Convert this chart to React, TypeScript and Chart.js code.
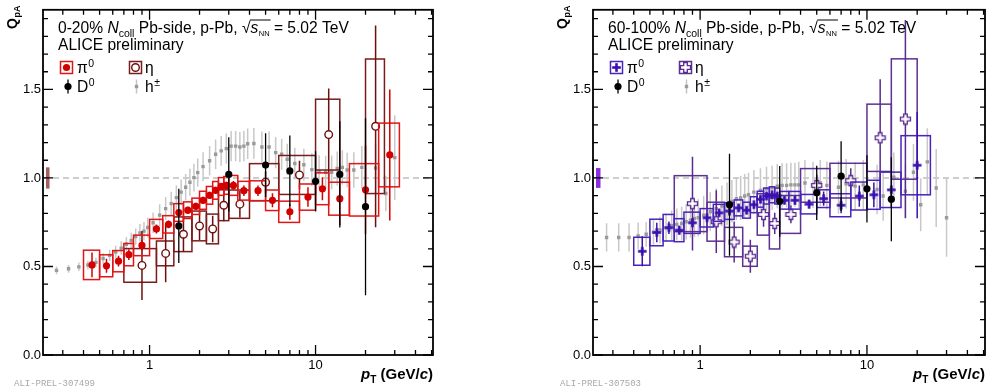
import React, { useEffect, useRef } from "react";
import { Chart, registerables } from "chart.js";

Chart.register(...registerables);

const FONT = '"Liberation Sans", Arial, Helvetica, sans-serif';

// ---- axes ----
const X_MIN = 0.228;
const X_MAX = 51;
const Y_MIN = 0;
const Y_MAX = 1.95;
const X_TICKS = [1, 10];
const X_MINOR = [0.3, 0.4, 0.5, 0.6, 0.7, 0.8, 0.9, 2, 3, 4, 5, 6, 7, 8, 9, 20, 30, 40, 50];
const Y_TICKS = [0, 0.5, 1.0, 1.5];
const Y_MINOR = [0.1, 0.2, 0.3, 0.4, 0.6, 0.7, 0.8, 0.9, 1.1, 1.2, 1.3, 1.4, 1.6, 1.7, 1.8, 1.9];
const REF_LINE = 1.0;

// ---- LEFT panel (0-20%) ----
const L_H_PT = [0.275, 0.325, 0.375, 0.425, 0.475, 0.525, 0.575, 0.625, 0.675, 0.725, 0.775, 0.825, 0.875, 0.925, 0.975, 1.05, 1.15, 1.25, 1.35, 1.45, 1.55, 1.65, 1.75, 1.85, 1.95, 2.1, 2.3, 2.5, 2.7, 2.9, 3.1, 3.3, 3.5, 3.7, 3.9, 4.25, 4.75, 5.25, 5.75, 6.25, 6.75, 7.5, 8.5, 9.5, 10.5, 11.5, 12.5, 13.5, 14.5, 15.5, 17, 19, 23, 26.5, 30];
const L_H_Q = [0.478, 0.487, 0.498, 0.508, 0.523, 0.545, 0.563, 0.582, 0.604, 0.626, 0.647, 0.669, 0.69, 0.7, 0.72, 0.747, 0.79, 0.827, 0.855, 0.889, 0.92, 0.948, 0.976, 1.002, 1.03, 1.064, 1.097, 1.134, 1.153, 1.166, 1.18, 1.18, 1.175, 1.18, 1.193, 1.195, 1.175, 1.175, 1.143, 1.134, 1.106, 1.082, 1.075, 1.047, 1.036, 1.032, 1.032, 1.054, 1.06, 1.045, 1.045, 1.06, 1.056, 0.912, 1.115];
const L_H_ERR = [0.022, 0.022, 0.024, 0.025, 0.027, 0.03, 0.032, 0.035, 0.038, 0.04, 0.043, 0.046, 0.05, 0.052, 0.055, 0.058, 0.062, 0.065, 0.067, 0.07, 0.072, 0.074, 0.076, 0.078, 0.08, 0.082, 0.083, 0.084, 0.084, 0.085, 0.085, 0.085, 0.085, 0.085, 0.086, 0.087, 0.087, 0.088, 0.088, 0.088, 0.088, 0.089, 0.09, 0.092, 0.093, 0.094, 0.095, 0.096, 0.097, 0.098, 0.1, 0.12, 0.14, 0.1, 0.24];

const L_PI0_PT = [0.45, 0.55, 0.65, 0.75, 0.9, 1.1, 1.3, 1.5, 1.7, 1.9, 2.1, 2.3, 2.5, 2.7, 2.9, 3.2, 3.7, 4.5, 5.5, 7, 9, 11, 14, 20, 28];
const L_PI0_Q = [0.509, 0.504, 0.53, 0.567, 0.619, 0.712, 0.738, 0.805, 0.818, 0.84, 0.874, 0.902, 0.93, 0.952, 0.958, 0.958, 0.928, 0.928, 0.874, 0.809, 0.892, 0.939, 0.883, 0.933, 1.13];
const L_PI0_STAT = [0.07, 0.04, 0.03, 0.03, 0.03, 0.025, 0.022, 0.02, 0.02, 0.02, 0.02, 0.02, 0.02, 0.02, 0.02, 0.025, 0.03, 0.03, 0.04, 0.045, 0.055, 0.065, 0.15, 0.25, 0.37];
const L_PI0_SYS = [0.083, 0.062, 0.06, 0.063, 0.058, 0.054, 0.049, 0.05, 0.047, 0.046, 0.051, 0.05, 0.05, 0.05, 0.05, 0.056, 0.053, 0.056, 0.058, 0.06, 0.074, 0.09, 0.093, 0.148, 0.18];
const L_PI0_LO = [0.4, 0.5, 0.6, 0.7, 0.8, 1.0, 1.2, 1.4, 1.6, 1.8, 2.0, 2.2, 2.4, 2.6, 2.8, 3.0, 3.4, 4.0, 5.0, 6.0, 8.0, 10, 12, 16, 24];
const L_PI0_HI = [0.5, 0.6, 0.7, 0.8, 1.0, 1.2, 1.4, 1.6, 1.8, 2.0, 2.2, 2.4, 2.6, 2.8, 3.0, 3.4, 4.0, 5.0, 6.0, 8.0, 10, 12, 16, 24, 32];

const L_ETA_PT = [0.9, 1.25, 1.6, 2.0, 2.4, 2.8, 3.5, 5.0, 8.0, 12.0, 23.0];
const L_ETA_Q = [0.506, 0.574, 0.682, 0.729, 0.712, 0.846, 0.852, 0.976, 1.017, 1.245, 1.292];
const L_ETA_STAT = [0.195, 0.163, 0.1, 0.08, 0.075, 0.09, 0.075, 0.06, 0.08, 0.26, 0.57];
const L_ETA_SYS = [0.095, 0.07, 0.098, 0.084, 0.084, 0.087, 0.08, 0.105, 0.11, 0.2, 0.38];
const L_ETA_LO = [0.7, 1.1, 1.4, 1.8, 2.2, 2.6, 3.0, 4.0, 6.0, 10, 20];
const L_ETA_HI = [1.1, 1.4, 1.8, 2.2, 2.6, 3.0, 4.0, 6.0, 10, 14, 26];

const L_D0_PT = [1.5, 3, 5, 7, 10, 14, 20];
const L_D0_Q = [0.729, 1.02, 1.073, 1.04, 0.981, 1.02, 0.838];
const L_D0_ERR = [0.21, 0.21, 0.18, 0.2, 0.17, 0.3, 0.5];
const L_NORM = 0.06;

// ---- RIGHT panel (60-100%) ----
const R_H_PT = [0.275, 0.325, 0.375, 0.425, 0.475, 0.525, 0.575, 0.625, 0.675, 0.725, 0.775, 0.825, 0.875, 0.925, 0.975, 1.05, 1.15, 1.25, 1.35, 1.45, 1.55, 1.65, 1.75, 1.85, 1.95, 2.1, 2.3, 2.5, 2.7, 2.9, 3.1, 3.3, 3.5, 3.7, 3.9, 4.25, 4.75, 5.25, 5.75, 6.75, 7.5, 8.5, 9.5, 11.5, 12.5, 14.5, 17, 19, 21, 23, 26, 30];
const R_H_Q = [0.664, 0.664, 0.664, 0.673, 0.682, 0.693, 0.706, 0.719, 0.731, 0.738, 0.743, 0.753, 0.762, 0.771, 0.775, 0.79, 0.809, 0.827, 0.842, 0.855, 0.868, 0.883, 0.887, 0.898, 0.905, 0.92, 0.93, 0.939, 0.944, 0.954, 0.958, 0.958, 0.961, 0.961, 0.961, 0.972, 0.961, 0.972, 0.958, 0.948, 0.967, 0.954, 0.961, 0.935, 0.898, 1.004, 0.926, 1.032, 0.849, 1.091, 0.943, 0.775];
const R_H_ERR = [0.08, 0.08, 0.08, 0.075, 0.07, 0.07, 0.075, 0.08, 0.085, 0.09, 0.095, 0.1, 0.1, 0.105, 0.105, 0.11, 0.11, 0.115, 0.115, 0.12, 0.12, 0.12, 0.125, 0.125, 0.125, 0.125, 0.125, 0.125, 0.125, 0.125, 0.125, 0.125, 0.125, 0.125, 0.13, 0.13, 0.13, 0.13, 0.135, 0.15, 0.14, 0.135, 0.14, 0.14, 0.14, 0.14, 0.15, 0.16, 0.15, 0.19, 0.22, 0.22];

const R_PI0_PT = [0.45, 0.55, 0.65, 0.75, 0.9, 1.1, 1.3, 1.5, 1.7, 1.9, 2.1, 2.3, 2.5, 2.7, 2.9, 3.2, 3.7, 4.5, 5.5, 7, 9, 11, 14, 20];
const R_PI0_Q = [0.586, 0.692, 0.719, 0.705, 0.747, 0.775, 0.803, 0.813, 0.831, 0.818, 0.849, 0.88, 0.898, 0.905, 0.898, 0.874, 0.874, 0.852, 0.883, 0.846, 0.898, 0.905, 0.933, 1.072];
const R_PI0_STAT = [0.085, 0.055, 0.035, 0.025, 0.025, 0.022, 0.02, 0.02, 0.02, 0.02, 0.02, 0.02, 0.02, 0.02, 0.02, 0.022, 0.025, 0.025, 0.04, 0.045, 0.06, 0.07, 0.1, 0.3];
const R_PI0_SYS = [0.079, 0.075, 0.075, 0.065, 0.06, 0.052, 0.048, 0.047, 0.045, 0.045, 0.045, 0.045, 0.045, 0.045, 0.045, 0.05, 0.05, 0.055, 0.05, 0.065, 0.079, 0.082, 0.1, 0.167];
const R_PI0_LO = [0.4, 0.5, 0.6, 0.7, 0.8, 1.0, 1.2, 1.4, 1.6, 1.8, 2.0, 2.2, 2.4, 2.6, 2.8, 3.0, 3.4, 4.0, 5.0, 6.0, 8.0, 10, 12, 16];
const R_PI0_HI = [0.5, 0.6, 0.7, 0.8, 1.0, 1.2, 1.4, 1.6, 1.8, 2.0, 2.2, 2.4, 2.6, 2.8, 3.0, 3.4, 4.0, 5.0, 6.0, 8.0, 10, 12, 16, 24];

const R_ETA_PT = [0.9, 1.25, 1.6, 2.0, 2.4, 2.8, 3.5, 5.0, 8.0, 12.0, 17.0];
const R_ETA_Q = [0.855, 0.753, 0.638, 0.558, 0.794, 0.743, 0.794, 0.958, 0.985, 1.227, 1.333];
const R_ETA_STAT = [0.265, 0.177, 0.116, 0.093, 0.07, 0.06, 0.05, 0.06, 0.07, 0.33, 0.56];
const R_ETA_SYS = [0.158, 0.11, 0.083, 0.057, 0.117, 0.144, 0.107, 0.095, 0.098, 0.19, 0.34];
const R_ETA_LO = [0.7, 1.1, 1.4, 1.8, 2.2, 2.6, 3.0, 4.0, 6.0, 10, 14];
const R_ETA_HI = [1.1, 1.4, 1.8, 2.2, 2.6, 3.0, 4.0, 6.0, 10, 14, 20];

const R_D0_PT = [1.5, 3, 5, 7, 10, 14];
const R_D0_Q = [0.849, 0.868, 0.916, 1.01, 0.939, 0.88];
const R_D0_ERR = [0.288, 0.2, 0.153, 0.197, 0.19, 0.237];
const R_NORM = 0.056;

const zip = (xs: number[], ys: number[]) => xs.map((v, i) => ({ x: v, y: ys[i] }));

function plusCanvas(color: string, open: boolean) {
  const c = document.createElement("canvas");
  const s = 13;
  c.width = s;
  c.height = s;
  const g = c.getContext("2d")!;
  const m = s / 2;
  if (!open) {
    g.fillStyle = color;
    const L = 4.3, w = 1.3;
    g.fillRect(m - L, m - w, 2 * L, 2 * w);
    g.fillRect(m - w, m - L, 2 * w, 2 * L);
  } else {
    const L = 5, w = 1.8;
    g.beginPath();
    g.moveTo(m - w, m - L); g.lineTo(m + w, m - L); g.lineTo(m + w, m - w); g.lineTo(m + L, m - w);
    g.lineTo(m + L, m + w); g.lineTo(m + w, m + w); g.lineTo(m + w, m + L); g.lineTo(m - w, m + L);
    g.lineTo(m - w, m + w); g.lineTo(m - L, m + w); g.lineTo(m - L, m - w); g.lineTo(m - w, m - w);
    g.closePath();
    g.fillStyle = "#fff";
    g.fill();
    g.strokeStyle = color;
    g.lineWidth = 1.3;
    g.stroke();
  }
  return c;
}

type Series = { pt: number[]; q: number[]; stat: number[]; sys: number[]; lo: number[]; hi: number[]; color: string; box: string };
type Cfg = {
  cent: string;
  padding: { left: number; right: number; top: number; bottom: number };
  wm: string;
  wmX: number;
  norm: number;
  normW: number;
  normColor: string;
  pi0: Series;
  eta: Series;
  d0: { pt: number[]; q: number[]; err: number[] };
  h: { pt: number[]; q: number[]; err: number[] };
  plus: boolean;
};

function seg(ctx: CanvasRenderingContext2D, t: string, font: string, x: number, y: number) {
  ctx.font = font;
  ctx.fillText(t, x, y);
  return x + ctx.measureText(t).width;
}
const F = (size: number, style = "") => `${style} ${size}px ${FONT}`;
const TS = 15.6; // main text size

function buildChart(canvas: HTMLCanvasElement, cfg: Cfg) {
  const pi0Style: any = cfg.plus ? plusCanvas(cfg.pi0.color, false) : "circle";
  const etaStyle: any = cfg.plus ? plusCanvas(cfg.eta.color, true) : "circle";

  const drawMarker = (ctx: CanvasRenderingContext2D, kind: string, x: number, y: number) => {
    if (kind === "pi0") {
      if (cfg.plus) ctx.drawImage(pi0Style, x - 6.5, y - 6.5);
      else { ctx.fillStyle = cfg.pi0.color; ctx.beginPath(); ctx.arc(x, y, 3.6, 0, Math.PI * 2); ctx.fill(); }
    } else if (kind === "eta") {
      if (cfg.plus) ctx.drawImage(etaStyle, x - 6.5, y - 6.5);
      else { ctx.fillStyle = "#fff"; ctx.strokeStyle = cfg.eta.color; ctx.lineWidth = 1.4; ctx.beginPath(); ctx.arc(x, y, 3.8, 0, Math.PI * 2); ctx.fill(); ctx.stroke(); }
    }
  };

  const plugin = {
    id: "panelDeco",
    beforeDatasetsDraw(chart: any) {
      const { ctx, chartArea: a, scales } = chart;
      const y = scales.y;
      ctx.save();
      const yy = y.getPixelForValue(REF_LINE);
      ctx.strokeStyle = "#bdbdbd";
      ctx.lineWidth = 1.5;
      ctx.setLineDash([6, 4]);
      ctx.beginPath();
      ctx.moveTo(a.left, yy);
      ctx.lineTo(a.right, yy);
      ctx.stroke();
      ctx.setLineDash([]);
      const t = y.getPixelForValue(REF_LINE + cfg.norm);
      const b = y.getPixelForValue(REF_LINE - cfg.norm);
      ctx.fillStyle = cfg.normColor;
      ctx.fillRect(a.left + 3, t, cfg.normW, b - t);
      ctx.restore();
    },
    beforeDatasetDraw(chart: any, args: any) {
      const ds: any = chart.data.datasets[args.index];
      const { ctx, chartArea: a, scales } = chart;
      const xs = scales.x, ys = scales.y;
      ctx.save();
      ctx.beginPath();
      ctx.rect(a.left, a.top, a.right - a.left, a.bottom - a.top);
      ctx.clip();
      if (ds.lo) {
        ctx.strokeStyle = ds.boxColor;
        ctx.lineWidth = 1.5;
        ds.data.forEach((p: any, i: number) => {
          const x1 = xs.getPixelForValue(ds.lo[i]);
          const x2 = xs.getPixelForValue(ds.hi[i]);
          const y1 = ys.getPixelForValue(p.y + ds.sys[i]);
          const y2 = ys.getPixelForValue(p.y - ds.sys[i]);
          ctx.strokeRect(x1, y1, x2 - x1, y2 - y1);
        });
      }
      if (ds.stat) {
        ctx.strokeStyle = ds.barColor;
        ctx.lineWidth = ds.barWidth;
        ds.data.forEach((p: any, i: number) => {
          const x = xs.getPixelForValue(p.x);
          ctx.beginPath();
          ctx.moveTo(x, ys.getPixelForValue(p.y + ds.stat[i]));
          ctx.lineTo(x, ys.getPixelForValue(p.y - ds.stat[i]));
          ctx.stroke();
        });
      }
      ctx.restore();
    },
    afterDraw(chart: any) {
      const { ctx, chartArea: a, scales } = chart;
      const xs = scales.x, ys = scales.y;
      ctx.save();
      // frame
      ctx.strokeStyle = "#000";
      ctx.lineWidth = 1.8;
      ctx.strokeRect(a.left, a.top, a.right - a.left, a.bottom - a.top);
      ctx.lineWidth = 1.3;
      const yt = (v: number, len: number) => {
        const p = ys.getPixelForValue(v);
        ctx.beginPath();
        ctx.moveTo(a.left, p); ctx.lineTo(a.left + len, p);
        ctx.moveTo(a.right, p); ctx.lineTo(a.right - len, p);
        ctx.stroke();
      };
      Y_TICKS.forEach((v) => yt(v, 10));
      Y_MINOR.forEach((v) => yt(v, 5));
      const xt = (v: number, len: number) => {
        const p = xs.getPixelForValue(v);
        ctx.beginPath();
        ctx.moveTo(p, a.bottom); ctx.lineTo(p, a.bottom - len);
        ctx.moveTo(p, a.top); ctx.lineTo(p, a.top + len);
        ctx.stroke();
      };
      X_TICKS.forEach((v) => xt(v, 10));
      X_MINOR.forEach((v) => xt(v, 5));

      const L = a.left;
      ctx.fillStyle = "#000";
      ctx.textAlign = "left";
      ctx.textBaseline = "alphabetic";
      // title
      let x = L + 15;
      const by = 33;
      x = seg(ctx, cfg.cent, F(TS), x, by);
      x = seg(ctx, "N", F(TS, "italic"), x, by);
      x = seg(ctx, "coll", F(10.5), x, by + 4);
      x = seg(ctx, " Pb-side, p-Pb, ", F(TS), x, by);
      x = seg(ctx, "\u221A", F(TS), x, by);
      const ox = x;
      x = seg(ctx, "s", F(TS, "italic"), x, by);
      x = seg(ctx, "NN", F(7.5), x + 0.5, by + 3);
      ctx.strokeStyle = "#000";
      ctx.lineWidth = 1;
      ctx.beginPath();
      ctx.moveTo(ox - 0.5, by - 13);
      ctx.lineTo(x + 1, by - 13);
      ctx.stroke();
      seg(ctx, " = 5.02 TeV", F(TS), x, by);
      seg(ctx, "ALICE preliminary", F(TS), L + 15, 50);

      // legend
      const r1 = 67.5, r2 = 86.5;
      ctx.lineWidth = 1.5;
      ctx.strokeStyle = cfg.pi0.box;
      ctx.strokeRect(L + 17.5, r1 - 6, 12, 12);
      drawMarker(ctx, "pi0", L + 23.5, r1);
      ctx.fillStyle = "#000";
      let tx = seg(ctx, "\u03C0", F(TS), L + 34, r1 + 5.5);
      seg(ctx, "0", F(10.5), tx + 0.5, r1 - 1);
      ctx.strokeStyle = cfg.eta.box;
      ctx.lineWidth = 1.5;
      ctx.strokeRect(L + 86.5, r1 - 6, 12, 12);
      drawMarker(ctx, "eta", L + 92.5, r1);
      ctx.fillStyle = "#000";
      seg(ctx, "\u03B7", F(TS), L + 102, r1 + 5.5);
      // D0
      ctx.strokeStyle = "#000";
      ctx.lineWidth = 1.3;
      ctx.beginPath(); ctx.moveTo(L + 25, r2 - 7); ctx.lineTo(L + 25, r2 + 7); ctx.stroke();
      ctx.fillStyle = "#000";
      ctx.beginPath(); ctx.arc(L + 25, r2, 3.6, 0, Math.PI * 2); ctx.fill();
      tx = seg(ctx, "D", F(TS), L + 34, r2 + 5.5);
      seg(ctx, "0", F(10.5), tx + 0.5, r2 - 1);
      // h
      ctx.strokeStyle = "#c4c4c4";
      ctx.lineWidth = 1.5;
      ctx.beginPath(); ctx.moveTo(L + 93.5, r2 - 7); ctx.lineTo(L + 93.5, r2 + 7); ctx.stroke();
      ctx.fillStyle = "#9a9a9a";
      ctx.fillRect(L + 91.8, r2 - 1.7, 3.4, 3.4);
      ctx.fillStyle = "#000";
      tx = seg(ctx, "h", F(TS), L + 102, r2 + 5.5);
      seg(ctx, "\u00B1", F(10.5), tx + 0.5, r2 - 1);

      // x axis title (right aligned)
      const parts: [string, string, number][] = [
        ["p", F(15, "italic bold"), 0],
        ["T", F(10, "bold"), 4],
        [" (GeV/", F(15, "bold"), 0],
        ["c", F(15, "italic bold"), 0],
        [")", F(15, "bold"), 0],
      ];
      let tw = 0;
      parts.forEach(([t, f]) => { ctx.font = f; tw += ctx.measureText(t).width; });
      let px = a.right - tw;
      parts.forEach(([t, f, dy]) => { px = seg(ctx, t, f, px, 379 + dy); });

      // y axis title (rotated)
      ctx.save();
      ctx.translate(L - 26.5, 29);
      ctx.rotate(-Math.PI / 2);
      const qx = seg(ctx, "Q", F(14, "bold"), 0, 0);
      seg(ctx, "pA", F(9, "bold"), qx + 0.5, 3);
      ctx.restore();

      // watermark
      ctx.fillStyle = "#a8a8a8";
      ctx.font = `9px "Liberation Mono", "DejaVu Sans Mono", monospace`;
      ctx.fillText(cfg.wm, cfg.wmX, 386);
      ctx.restore();
    },
  };

  const tickFont = { family: FONT, size: 13 };
  return new Chart(canvas, {
    type: "scatter",
    data: {
      datasets: [
        {
          label: "D0",
          data: zip(cfg.d0.pt, cfg.d0.q),
          stat: cfg.d0.err,
          barColor: "#000",
          barWidth: 1.3,
          pointStyle: "circle",
          pointRadius: 3.6,
          pointBackgroundColor: "#000",
          pointBorderWidth: 0,
        } as any,
        {
          label: "pi0",
          data: zip(cfg.pi0.pt, cfg.pi0.q),
          stat: cfg.pi0.stat,
          sys: cfg.pi0.sys,
          lo: cfg.pi0.lo,
          hi: cfg.pi0.hi,
          boxColor: cfg.pi0.box,
          barColor: cfg.pi0.color,
          barWidth: 1.5,
          pointStyle: pi0Style,
          pointRadius: cfg.plus ? 6 : 3.6,
          pointBackgroundColor: cfg.pi0.color,
          pointBorderWidth: 0,
        } as any,
        {
          label: "eta",
          data: zip(cfg.eta.pt, cfg.eta.q),
          stat: cfg.eta.stat,
          sys: cfg.eta.sys,
          lo: cfg.eta.lo,
          hi: cfg.eta.hi,
          boxColor: cfg.eta.box,
          barColor: cfg.eta.color,
          barWidth: 1.5,
          pointStyle: etaStyle,
          pointRadius: cfg.plus ? 6 : 3.8,
          pointBackgroundColor: "#fff",
          pointBorderColor: cfg.eta.color,
          pointBorderWidth: 1.4,
        } as any,
        {
          label: "h",
          data: zip(cfg.h.pt, cfg.h.q),
          stat: cfg.h.err,
          barColor: "#c8c8c8",
          barWidth: 1.5,
          pointStyle: "rect",
          pointRadius: 2.4,
          pointBackgroundColor: "#9a9a9a",
          pointBorderWidth: 0,
        } as any,
      ],
    },
    options: {
      responsive: false,
      animation: false,
      devicePixelRatio: 1,
      events: [],
      layout: { padding: cfg.padding },
      plugins: { legend: { display: false }, tooltip: { enabled: false }, title: { display: false } },
      scales: {
        x: {
          type: "logarithmic",
          min: X_MIN,
          max: X_MAX,
          grid: { display: false, drawTicks: false },
          border: { display: false },
          afterBuildTicks: (s: any) => { s.ticks = X_TICKS.map((v) => ({ value: v })); },
          afterFit: (s: any) => { s.height = 35; },
          ticks: { autoSkip: false, maxRotation: 0, padding: 3, color: "#000", font: tickFont, callback: (v: any) => String(v) },
        },
        y: {
          type: "linear",
          min: Y_MIN,
          max: Y_MAX,
          grid: { display: false, drawTicks: false },
          border: { display: false },
          afterBuildTicks: (s: any) => { s.ticks = Y_TICKS.map((v) => ({ value: v })); },
          afterFit: (s: any) => { s.width = 36; },
          ticks: { padding: 2, color: "#000", font: tickFont, callback: (v: any) => Number(v).toFixed(1) },
        },
      },
    } as any,
    plugins: [plugin as any],
  });
}

const LEFT_CFG: Cfg = {
  cent: "0-20% ",
  padding: { left: 7, right: 64, top: 5, bottom: 0 },
  wm: "ALI-PREL-307499",
  wmX: 14,
  norm: L_NORM,
  normW: 3.5,
  normColor: "#a45f5f",
  pi0: { pt: L_PI0_PT, q: L_PI0_Q, stat: L_PI0_STAT, sys: L_PI0_SYS, lo: L_PI0_LO, hi: L_PI0_HI, color: "#d40000", box: "#e01515" },
  eta: { pt: L_ETA_PT, q: L_ETA_Q, stat: L_ETA_STAT, sys: L_ETA_SYS, lo: L_ETA_LO, hi: L_ETA_HI, color: "#6e0e0e", box: "#7a1c1c" },
  d0: { pt: L_D0_PT, q: L_D0_Q, err: L_D0_ERR },
  h: { pt: L_H_PT, q: L_H_Q, err: L_H_ERR },
  plus: false,
};

const RIGHT_CFG: Cfg = {
  cent: "60-100% ",
  padding: { left: 60, right: 10, top: 5, bottom: 0 },
  wm: "ALI-PREL-307503",
  wmX: 63,
  norm: R_NORM,
  normW: 4.5,
  normColor: "#8a2be2",
  pi0: { pt: R_PI0_PT, q: R_PI0_Q, stat: R_PI0_STAT, sys: R_PI0_SYS, lo: R_PI0_LO, hi: R_PI0_HI, color: "#3a10b0", box: "#4a24b8" },
  eta: { pt: R_ETA_PT, q: R_ETA_Q, stat: R_ETA_STAT, sys: R_ETA_SYS, lo: R_ETA_LO, hi: R_ETA_HI, color: "#5a2a90", box: "#5e3193" },
  d0: { pt: R_D0_PT, q: R_D0_Q, err: R_D0_ERR },
  h: { pt: R_H_PT, q: R_H_Q, err: R_H_ERR },
  plus: true,
};

export default function App() {
  const lRef = useRef<HTMLCanvasElement>(null);
  const rRef = useRef<HTMLCanvasElement>(null);
  useEffect(() => {
    const c1 = buildChart(lRef.current!, LEFT_CFG);
    const c2 = buildChart(rRef.current!, RIGHT_CFG);
    return () => {
      c1.destroy();
      c2.destroy();
    };
  }, []);
  return (
    <div style={{ position: "absolute", left: 0, top: 0, width: 995, height: 390, background: "#fff" }}>
      <canvas ref={lRef} width={497} height={390} style={{ position: "absolute", left: 0, top: 0, width: 497, height: 390 }} />
      <canvas ref={rRef} width={498} height={390} style={{ position: "absolute", left: 497, top: 0, width: 498, height: 390 }} />
    </div>
  );
}
